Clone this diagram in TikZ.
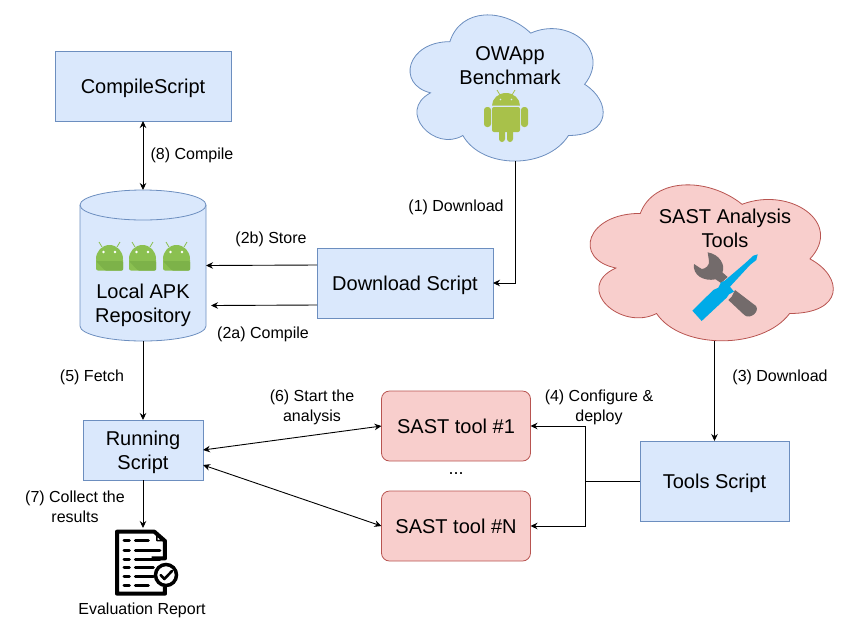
\documentclass[tikz,border=0pt]{standalone}
\usepackage{fontspec}
\setmainfont{Liberation Sans}
\usepackage{tikz}
\usetikzlibrary{arrows.meta,positioning}
\definecolor{bluefill}{HTML}{DAE8FC}
\definecolor{blueline}{HTML}{6C8EBF}
\definecolor{redfill}{HTML}{F8CECC}
\definecolor{redline}{HTML}{B85450}
\definecolor{droidgreen}{HTML}{A8C14A}
\definecolor{tilegreen}{HTML}{8BC051}
\definecolor{tiledark}{HTML}{7DB249}
\definecolor{wrenchgray}{HTML}{736B6B}
\definecolor{driverblue}{HTML}{00ABE8}

\begin{document}
\begin{tikzpicture}[x=1pt, y=-1pt,
  bluebox/.style={draw=blueline, fill=bluefill, line width=0.8pt, outer sep=0pt, align=center, font=\fontsize{20}{24}\selectfont, execute at begin node=\rule{0pt}{19pt}},
  redbox/.style={draw=redline, fill=redfill, line width=0.8pt, rounded corners=8pt, outer sep=0pt, minimum width=149pt, minimum height=70pt, align=center, font=\fontsize{20}{24}\selectfont},
  bigtxt/.style={align=center, inner sep=0pt, font=\fontsize{20}{24}\selectfont},
  txt/.style={align=center, inner sep=0pt, font=\fontsize{16}{20}\selectfont},
  arr/.style={-{Stealth[length=7pt,width=6.5pt]}, line width=0.9pt},
  dbl/.style={{Stealth[length=7pt,width=6.5pt]}-{Stealth[length=7pt,width=6.5pt]}, line width=0.9pt},
  cloudpic/.pic={
    \draw[pic actions, line width=0.8pt] (0.25,0.25) .. controls (0.05,0.25) and (0,0.5) .. (0.16,0.55)
      .. controls (0,0.66) and (0.18,0.9) .. (0.31,0.8)
      .. controls (0.4,1) and (0.7,1) .. (0.8,0.8)
      .. controls (1,0.8) and (1,0.6) .. (0.875,0.5)
      .. controls (1,0.3) and (0.8,0.1) .. (0.625,0.2)
      .. controls (0.5,0.05) and (0.3,0.05) .. (0.25,0.25) -- cycle;
  },
  droidpic/.pic={
    \fill[droidgreen, rounded corners=3pt] (0,17) rectangle (7,37);
    \fill[droidgreen, rounded corners=3pt] (37,17) rectangle (44,37);
    \fill[droidgreen, rounded corners=3pt] (15,30) rectangle (21,52);
    \fill[droidgreen, rounded corners=3pt] (23,30) rectangle (29,52);
    \fill[droidgreen, rounded corners=2pt] (8,17) -- (36,17) -- (36,42) -- (8,42) -- cycle;
    \fill[droidgreen] (8,15.7) arc[start angle=180, end angle=0, x radius=14pt, y radius=12.7pt] -- cycle;
    \draw[droidgreen, line width=0.8pt] (13,0) -- (16,5) (31,0) -- (28,5);
    \fill[bluefill] (16.5,9.5) circle[radius=0.9pt] (27.5,9.5) circle[radius=0.9pt];
  },
  tilepic/.pic={
    \draw[tilegreen, line width=0.8pt] (3,0) -- (6,5) (24,0) -- (21,5);
    \fill[tilegreen, rounded corners=2pt] (0,16) -- (27,16) -- (27,28.5) -- (0,28.5) -- cycle;
    \fill[tilegreen] (0,17) arc[start angle=180, end angle=0, x radius=13.5pt, y radius=14pt] -- cycle;
    \fill[tiledark, rounded corners=1pt] (0,19) -- (27,19) -- (27,28.5) -- (9,28.5) -- cycle;
    \fill[white] (7.5,10) circle[radius=1.3pt] (19,10) circle[radius=1.3pt];
  },
  toolspic/.pic={
    \fill[wrenchgray] (68,22) .. controls (105,28) and (122,62) .. (112,82)
      -- (128,96) -- (108,114) -- (92,103)
      .. controls (55,110) and (22,90) .. (27,57)
      -- (50,72) .. controls (62,72) and (74,60) .. (72,48) -- cycle;
    \fill[wrenchgray] (150,135) -- (213,183)
      .. controls (225,200) and (195,225) .. (178,210) -- (130,165) -- (140,155) -- cycle;
    \fill[driverblue] (22,197) -- (85,135) -- (100,128) -- (108,112) -- (118,108) -- (180,55)
      -- (205,32) -- (218,28) -- (214,45) -- (195,60) -- (135,125) -- (147,140) -- (132,148)
      -- (125,158) -- (50,228) -- cycle;
  },
  reportpic/.pic={
    \draw[black, line width=4pt, line join=round] (125,100) -- (165,100) -- (165,48) -- (133,20) -- (21,20) -- (21,206) -- (165,206) -- (165,185);
    \draw[black, line width=1.5pt, line join=round] (141,30) -- (141,47) -- (156,47) -- cycle;
    \foreach \yy/\xx in {47/115,75/150,102/150,127/130,153/130,180/115} {
      \draw[black, line width=3pt, line cap=round] (42,\yy) -- (58,\yy) (76,\yy) -- (\xx,\yy);
    }
    \draw[black, fill=white, line width=3.5pt] (168,150) circle[radius=10.5pt];
    \draw[black, line width=2.6pt, line cap=round, line join=round] (152,150) -- (163,162) -- (186,138);
  }]
  \useasboundingbox (0,0) rectangle (843,625);

  \node[bluebox, minimum width=176pt, minimum height=70pt] (compile) at (143,86) {CompileScript};
  \node[minimum width=126pt, minimum height=151pt, outer sep=0pt, below=69pt of compile] (repo) {};
  \draw[draw=blueline, fill=bluefill, line width=0.8pt] ([yshift=-15pt]repo.north west)
    arc[start angle=180, end angle=0, x radius=63pt, y radius=15pt]
    -- ([yshift=15pt]repo.south east)
    arc[start angle=0, end angle=-180, x radius=63pt, y radius=15pt] -- cycle;
  \draw[draw=blueline, line width=0.8pt] ([yshift=-15pt]repo.north west)
    arc[start angle=180, end angle=360, x radius=63pt, y radius=15pt];
  \pic at (96,242) {tilepic};
  \pic at (129,242) {tilepic};
  \pic at (163,242) {tilepic};
  \node[bigtxt] (repotext) at (143,305) {Local APK\\Repository};
  \node[bluebox, minimum width=176pt, minimum height=70pt] (download) at (405,283) {Download Script};
  \node[bluebox, minimum width=120pt, minimum height=60pt, text height=42pt, text depth=4pt, below=79pt of repo] (running) {Running\\Script};
  \node[redbox] (sastone) at (456,426) {SAST tool \#1};
  \node[redbox, below=30pt of sastone] (sastn) {SAST tool \#N};
  \node[bluebox, minimum width=149pt, minimum height=80pt] (tools) at (714.5,481) {Tools Script};
  \node[txt, font=\fontsize{18}{20}\selectfont] (dots) at (456,474) {...};

  \coordinate (owappcorner) at (396,-1);
  \pic[draw=blueline, fill=bluefill, x=215.6pt, y=-170.6pt] at (owappcorner) {cloudpic};
  \node[bigtxt] (owapptext) at (510,66) {OWApp\\Benchmark};
  \pic at (484,90) {droidpic};
  \coordinate (owappbase) at (515,161);

  \coordinate (sastcorner) at (572.4,167.9);
  \pic[draw=redline, fill=redfill, x=271.5pt, y=-182pt] at (sastcorner) {cloudpic};
  \node[bigtxt] (sasttext) at (725,228) {SAST Analysis\\Tools};
  \coordinate (toolscorner) at (685,245);
  \pic[x=0.3333pt, y=-0.3333pt] at (toolscorner) {toolspic};
  \coordinate (sastbase) at (tools.north |- 0,341);

  \coordinate (reportcorner) at (110,525);
  \pic[x=0.3333pt, y=-0.3333pt] at (reportcorner) {reportpic};
  \coordinate (reporttop) at (running.south |- 0,528);
  \node[txt] (reporttext) at (142,610) {Evaluation Report};

  \draw[dbl] (compile) -- (repo);
  \draw[arr] (owappbase) |- (download);
  \draw[arr] ([yshift=18pt]download.west) -- (repo.east);
  \draw[arr] ([yshift=-22pt]download.west) -- ([yshift=-40pt,xshift=5pt]repo.east);
  \draw[arr] (repo.south) -- (running.north);
  \draw[arr] (running.south) -- (reporttop);
  \draw[dbl] (running.east) -- (sastone.west);
  \draw[dbl] ([yshift=-15pt]running.east) -- (sastn.west);
  \draw[arr] (sastbase) -- (tools.north);
  \coordinate (split) at (585,481);
  \draw[line width=0.9pt] (tools.west) -- (split);
  \draw[arr] (split) |- (sastone.east);
  \draw[arr] (split) |- (sastn.east);

  \node[txt] (lblcompile) at (192,155) {(8) Compile};
  \node[txt] (lbldownload) at (456,207) {(1) Download};
  \node[txt] (lblstore) at (271,239) {(2b) Store};
  \node[txt] (lblcompiled) at (263,334) {(2a) Compile};
  \node[txt] (lblfetch) at (92,377) {(5) Fetch};
  \node[txt] (lbltools) at (780,377) {(3) Download};
  \node[txt] (lblstart) at (312,407) {(6) Start the\\analysis};
  \node[txt] (lblconfig) at (599,407) {(4) Configure \&\\deploy};
  \node[txt] (lblcollect) at (75,507) {(7) Collect the\\results};
\end{tikzpicture}
\end{document}
